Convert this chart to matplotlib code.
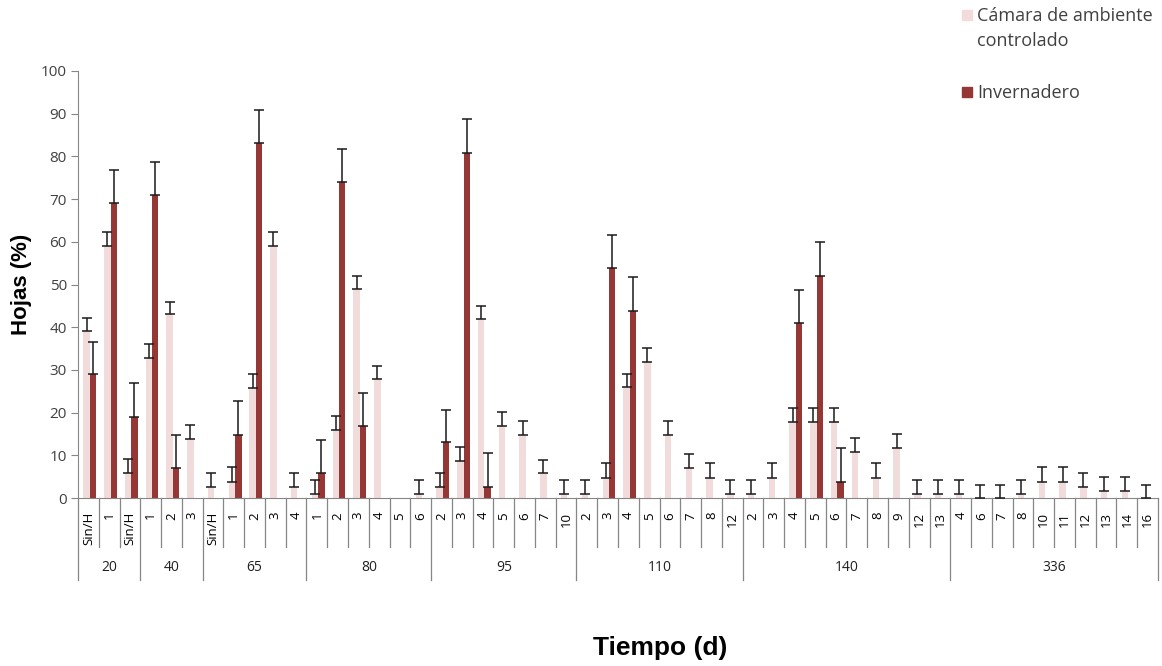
import matplotlib.pyplot as plt
from matplotlib.transforms import blended_transform_factory
from matplotlib.patches import Rectangle

# Days (outer level) and harvest number (inner level)
groups = ["20", "40", "65", "80", "95", "110", "140", "336"]
subcats = [
    ["Sin/H", "1", "Sin/H"],
    ["1", "2", "3"],
    ["Sin/H", "1", "2", "3", "4"],
    ["1", "2", "3", "4", "5", "6"],
    ["2", "3", "4", "5", "6", "7", "10"],
    ["2", "3", "4", "5", "6", "7", "8", "12"],
    ["2", "3", "4", "5", "6", "7", "8", "9", "12", "13"],
    ["4", "6", "7", "8", "10", "11", "12", "13", "14", "16"],
]

# Cámara de ambiente controlado
camara = [39.0, 59.1, 5.8,
          32.9, 43.0, 13.8,
          2.6, 3.8, 25.8, 59.1, 2.6,
          0.9, 15.9, 49.0, 27.9, 0, 1.0,
          2.6, 8.7, 41.9, 16.9, 14.8, 5.8, 0.9,
          0.9, 4.8, 25.9, 31.9, 14.8, 7.0, 4.8, 0.9,
          0.9, 4.8, 17.7, 17.7, 17.7, 10.8, 4.8, 11.6, 0.9, 0.9,
          0.9, 0, 0, 0.9, 3.8, 3.8, 2.6, 1.7, 1.7, 0]
camara_err = [3.1, 3.2, 3.3,
              3.1, 3.0, 3.3,
              3.3, 3.4, 3.2, 3.2, 3.3,
              3.2, 3.3, 3.0, 3.0, 0, 3.1,
              3.3, 3.2, 3.1, 3.2, 3.2, 3.1, 3.2,
              3.3, 3.3, 3.1, 3.2, 3.2, 3.2, 3.3, 3.3,
              3.3, 3.3, 3.3, 3.3, 3.3, 3.3, 3.3, 3.4, 3.3, 3.3,
              3.3, 3.0, 3.0, 3.3, 3.4, 3.4, 3.3, 3.3, 3.3, 3.0]

# Invernadero
inver = [29.0, 69.0, 19.0,
         71.0, 7.0, 0,
         0, 14.8, 83.1, 0, 0,
         5.8, 73.9, 16.9, 0, 0, 0,
         13.0, 80.9, 2.6, 0, 0, 0, 0,
         0, 53.8, 43.9, 0, 0, 0, 0, 0,
         0, 0, 40.9, 52.1, 3.8, 0, 0, 0, 0, 0,
         0, 0, 0, 0, 0, 0, 0, 0, 0, 0]
inver_err = [7.6, 7.8, 8.0,
             7.8, 7.8, 0,
             0, 7.8, 7.7, 0, 0,
             7.8, 7.8, 7.8, 0, 0, 0,
             7.6, 7.8, 7.9, 0, 0, 0, 0,
             0, 7.8, 7.9, 0, 0, 0, 0, 0,
             0, 0, 7.8, 7.8, 8.0, 0, 0, 0, 0, 0,
             0, 0, 0, 0, 0, 0, 0, 0, 0, 0]

pink = "#F2DCDB"
dark = "#953735"
grey = "#868686"

labels = [s for g in subcats for s in g]
n = len(labels)
x = list(range(n))

fig = plt.figure(figsize=(11.62, 6.66), dpi=100)
ax = fig.add_axes([78 / 1162, 1 - 498 / 666, 1080 / 1162, 427 / 666])

w = 0.31
xp = [i - 0.09 for i in x]
xd = [i + 0.22 for i in x]
ax.bar(xp, camara, width=w, color=pink, zorder=2)
ax.bar(xd, inver, width=w, color=dark, zorder=2)

for xs, vals, errs in [(xp, camara, camara_err), (xd, inver, inver_err)]:
    sel = [k for k in range(n) if errs[k] > 0]
    ax.errorbar([xs[k] for k in sel], [vals[k] for k in sel],
                yerr=[[0] * len(sel), [errs[k] for k in sel]],
                fmt="none", ecolor="#1a1a1a", elinewidth=1.1,
                capsize=3.8, capthick=1.1, zorder=3, clip_on=False)

ax.set_xlim(-0.5, n - 0.5)
ax.set_ylim(0, 100)
ax.set_yticks(range(0, 101, 10))
ax.tick_params(axis="y", length=5, color=grey, labelsize=11,
               labelcolor="#404040", pad=3)
for t in ax.get_yticklabels():
    t.set_fontfamily("Open Sans")

ax.set_xticks(x)
ax.set_xticklabels(labels, rotation=90, fontsize=9.5, family="Open Sans",
                   va="top")
ax.tick_params(axis="x", length=0, pad=10)

for s in ["top", "right"]:
    ax.spines[s].set_visible(False)
for s in ["left", "bottom"]:
    ax.spines[s].set_color(grey)

# two-level category axis dividers
tr = blended_transform_factory(ax.transData, ax.transAxes)
bounds = [0]
for g in subcats:
    bounds.append(bounds[-1] + len(g))
for i in range(n + 1):
    depth = -0.192 if i in bounds else -0.115
    ax.plot([i - 0.5, i - 0.5], [0, depth], color=grey, lw=0.9,
            transform=tr, clip_on=False)
for g, a, b in zip(groups, bounds[:-1], bounds[1:]):
    ax.text((a + b - 1) / 2, -0.162, g, transform=tr, ha="center",
            va="center", fontsize=10, family="Open Sans", color="#202020")

fig.text(22 / 1162, 1 - 284 / 666, "Hojas (%)", rotation=90, ha="center",
         va="center", fontsize=16, fontweight="bold", family="Liberation Sans")
fig.text(660 / 1162, 1 - 648 / 666, "Tiempo (d)", ha="center", va="center",
         fontsize=19, fontweight="bold", family="Liberation Sans")

# legend
fig.patches.append(Rectangle((962 / 1162, 1 - 20 / 666), 10 / 1162, 10 / 666,
                             transform=fig.transFigure, color=pink))
fig.patches.append(Rectangle((962 / 1162, 1 - 97 / 666), 10 / 1162, 10 / 666,
                             transform=fig.transFigure, color=dark))
legend_kw = dict(ha="left", va="baseline", fontsize=13, family="Open Sans",
                 color="#404040")
fig.text(977 / 1162, 1 - 21 / 666, "Cámara de ambiente", **legend_kw)
fig.text(977 / 1162, 1 - 46 / 666, "controlado", **legend_kw)
fig.text(977 / 1162, 1 - 98 / 666, "Invernadero", **legend_kw)

fig.savefig("out.png", dpi=100)
